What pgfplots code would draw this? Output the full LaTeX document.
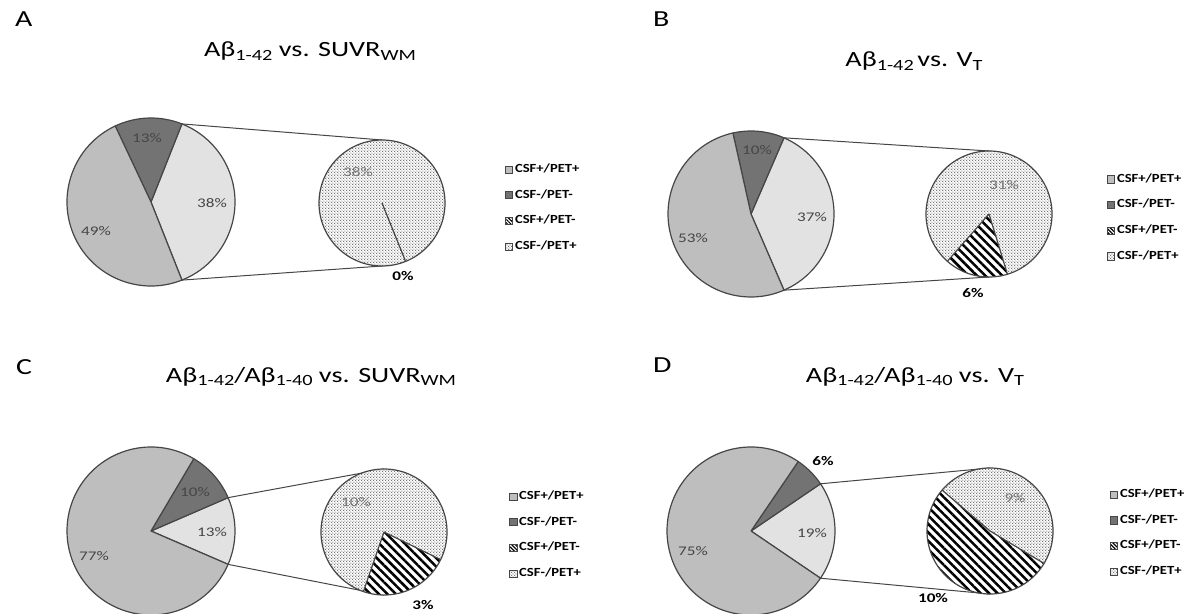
\documentclass[border=0pt]{standalone}
\usepackage{pgfplots}
\pgfplotsset{compat=1.18}
\usepackage{pgfplotstable}
\usetikzlibrary{patterns.meta}
\usepackage{fontspec}
\setmainfont{Carlito}[FakeStretch=1.3]
\newfontfamily\legfont{Carlito}[FakeStretch=1.18]

\definecolor{cPP}{RGB}{190,190,190}
\definecolor{cNN}{RGB}{115,115,115}
\definecolor{cOther}{RGB}{226,226,226}
\definecolor{cEdge}{RGB}{70,70,70}
\definecolor{cLab}{RGB}{70,70,70}
\definecolor{cLabB}{RGB}{115,115,115}
\definecolor{cDot}{RGB}{105,105,105}

\tikzdeclarepattern{
  name=pdots, type=uncolored,
  bounding box={(0pt,0pt) and (1.6pt,1.6pt)},
  tile size={(1.6pt,1.6pt)},
  code={\fill (0.4pt,0.4pt) circle (0.38pt); \fill (1.2pt,1.2pt) circle (0.38pt);}
}
\tikzset{
  hatchfill/.style={pattern={Lines[angle=-45,distance=3pt,line width=1.25pt]},pattern color=black},
  dotfill/.style={pattern=pdots,pattern color=cDot},
  edge/.style={draw=cEdge,line width=0.6pt,line join=round},
}

% values in percent of all subjects
\pgfplotstableread{
panel pp nn pn np
A 49 13 0 38
B 53 10 6 31
C 77 10 3 10
D 75 6 10 9
}\piedata

\newcommand\sub[1]{\raisebox{-0.32ex}{\fontsize{7.8}{9}\selectfont #1}}
\newcommand\titlefont{\fontsize{10.85}{13}\selectfont}
\newcommand\labfont{\fontsize{6.6}{8}\selectfont}

% #1 row, #2 cx, #3 cy, #4 R, #5 cx2, #6 cy2, #7 r2, #8 end angle of CSF+/PET- slice
\newcommand\drawpie[8]{%
  \pgfplotstablegetelem{#1}{pp}\of\piedata \pgfmathsetmacro\vP{\pgfplotsretval}%
  \pgfplotstablegetelem{#1}{nn}\of\piedata \pgfmathsetmacro\vN{\pgfplotsretval}%
  \pgfplotstablegetelem{#1}{pn}\of\piedata \pgfmathsetmacro\vH{\pgfplotsretval}%
  \pgfplotstablegetelem{#1}{np}\of\piedata \pgfmathsetmacro\vD{\pgfplotsretval}%
  \pgfmathsetmacro\aO{(\vH+\vD)*1.8}%
  \pgfmathsetmacro\aN{\aO+\vN*3.6}%
  \pgfmathsetmacro\aE{360-\aO}%
  \pgfmathsetmacro\hs{#8-\vH/(\vH+\vD)*360}%
  \pgfmathsetmacro\de{\hs+360}%
  \pgfmathsetmacro\Rr{#4*0.5}%
  \pgfmathsetmacro\rr{#7*0.5}%
  \pgfmathsetmacro\px{#2+#4*cos(\aO)}%
  \pgfmathsetmacro\pyt{-#3+#4*sin(\aO)}%
  \pgfmathsetmacro\pyb{-#3-#4*sin(\aO)}%
  \pgfmathsetmacro\qt{-#6+#7}%
  \pgfmathsetmacro\qb{-#6-#7}%
  % main pie
  \path[fill=cOther,edge] (axis cs:#2,-#3) -- ++(-\aO:\Rr pt) arc[start angle=-\aO,end angle=\aO,radius=\Rr pt] -- cycle;
  \path[fill=cNN,edge] (axis cs:#2,-#3) -- ++(\aO:\Rr pt) arc[start angle=\aO,end angle=\aN,radius=\Rr pt] -- cycle;
  \path[fill=cPP,edge] (axis cs:#2,-#3) -- ++(\aN:\Rr pt) arc[start angle=\aN,end angle=\aE,radius=\Rr pt] -- cycle;
  % connector lines
  \draw[cEdge,line width=0.5pt] (axis cs:\px,\pyt) -- (axis cs:#5,\qt);
  \draw[cEdge,line width=0.5pt] (axis cs:\px,\pyb) -- (axis cs:#5,\qb);
  % second pie
  \fill[white] (axis cs:#5,-#6) circle[radius=\rr pt];
  \path[dotfill] (axis cs:#5,-#6) -- ++(#8:\rr pt) arc[start angle=#8,end angle=\de,radius=\rr pt] -- cycle;
  \path[hatchfill] (axis cs:#5,-#6) -- ++(\hs:\rr pt) arc[start angle=\hs,end angle=#8,radius=\rr pt] -- cycle;
  \draw[edge] (axis cs:#5,-#6) -- ++(\hs:\rr pt) (axis cs:#5,-#6) -- ++(#8:\rr pt);
  \draw[edge] (axis cs:#5,-#6) circle[radius=\rr pt];
}

\pgfplotsset{
  panel/.style={
    x=0.5pt,y=0.5pt,hide axis,clip=false,anchor=north west,
    legend cell align=left,
    legend image code/.code={\draw[##1,draw=cEdge,line width=0.4pt] (0pt,-1.8pt) rectangle (3.6pt,1.8pt);},
    legend style={draw=none,fill=none,anchor=north west,
      font=\legfont\fontsize{6.2}{7}\selectfont\bfseries,row sep=5.2pt,
      nodes={inner sep=0.9pt}},
  },
}
\newcommand\legendentries{%
  \addlegendimage{fill=cPP}\addlegendentry{CSF+/PET+}
  \addlegendimage{fill=cNN}\addlegendentry{CSF-/PET-}
  \addlegendimage{pattern={Lines[angle=-45,distance=1.3pt,line width=0.6pt]},pattern color=black}\addlegendentry{CSF+/PET-}
  \addlegendimage{pattern=pdots,pattern color=cDot}\addlegendentry{CSF-/PET+}
}

\begin{document}
\begin{tikzpicture}
% ---------------- A
\begin{axis}[panel,at={(0pt,0pt)},xmin=0,xmax=596,ymin=-307,ymax=0,
  legend style={at={(0.837,0.487)}}]
\legendentries
\drawpie{0}{151}{202}{84}{382}{203}{63}{-68}
\node[anchor=base west,font=\fontsize{11.5}{13}\selectfont] at (axis cs:8,-27) {A};
\node[anchor=base,font=\titlefont] at (axis cs:310,-57) {Aβ\sub{1-42} vs. SUVR\sub{WM}};
\node[font=\labfont,text=cLab] at (axis cs:147,-138) {13\%};
\node[font=\labfont,text=cLab] at (axis cs:212,-203) {38\%};
\node[font=\labfont,text=cLab] at (axis cs:96,-231) {49\%};
\node[font=\labfont,text=cLabB] at (axis cs:358,-172) {38\%};
\node[font=\labfont\bfseries,text=black] at (axis cs:403,-276) {0\%};
\end{axis}
% ---------------- B
\begin{axis}[panel,at={(298pt,0pt)},xmin=596,xmax=1192,ymin=-307,ymax=0,
  legend style={at={(0.847,0.455)}}]
\legendentries
\drawpie{1}{751}{214}{83}{989}{214}{63}{-73}
\node[anchor=base west,font=\fontsize{11.5}{13}\selectfont] at (axis cs:646,-27) {B};
\node[anchor=base,font=\titlefont] at (axis cs:914,-67) {Aβ\sub{1-42}\,vs. V\sub{T}};
\node[font=\labfont,text=cLab] at (axis cs:757,-150) {10\%};
\node[font=\labfont,text=cLab] at (axis cs:812,-217) {37\%};
\node[font=\labfont,text=cLab] at (axis cs:693,-238) {53\%};
\node[font=\labfont,text=cLabB] at (axis cs:1004,-185) {31\%};
\node[font=\labfont\bfseries,text=black] at (axis cs:973,-293) {6\%};
\end{axis}
% ---------------- C
\begin{axis}[panel,at={(0pt,-153.5pt)},xmin=0,xmax=596,ymin=-614,ymax=-307,
  legend style={at={(0.844,0.422)}}]
\legendentries
\drawpie{2}{151}{531}{84}{384}{532}{63}{-26}
\node[anchor=base west,font=\fontsize{11.5}{13}\selectfont] at (axis cs:9,-374) {C};
\node[anchor=base,font=\titlefont] at (axis cs:311,-382) {Aβ\sub{1-42}/Aβ\sub{1-40} vs. SUVR\sub{WM}};
\node[font=\labfont,text=cLab] at (axis cs:195,-492) {10\%};
\node[font=\labfont,text=cLab] at (axis cs:212,-532) {13\%};
\node[font=\labfont,text=cLab] at (axis cs:94,-556) {77\%};
\node[font=\labfont,text=cLabB] at (axis cs:356,-502) {10\%};
\node[font=\labfont\bfseries,text=black] at (axis cs:423,-605) {3\%};
\end{axis}
% ---------------- D
\begin{axis}[panel,at={(298pt,-153.5pt)},xmin=596,xmax=1192,ymin=-614,ymax=-307,
  legend style={at={(0.852,0.428)}}]
\legendentries
\drawpie{3}{751}{531}{84}{990}{531}{63}{-31}
\node[anchor=base west,font=\fontsize{11.5}{13}\selectfont] at (axis cs:646,-372) {D};
\node[anchor=base,font=\titlefont] at (axis cs:915,-382) {Aβ\sub{1-42}/Aβ\sub{1-40} vs. V\sub{T}};
\node[font=\labfont\bfseries,text=black] at (axis cs:823,-461) {6\%};
\node[font=\labfont,text=cLab] at (axis cs:812,-533) {19\%};
\node[font=\labfont,text=cLab] at (axis cs:693,-551) {75\%};
\node[font=\labfont,text=cLabB] at (axis cs:1015,-498) {9\%};
\node[font=\labfont\bfseries,text=black] at (axis cs:933,-598) {10\%};
\end{axis}
\pgfresetboundingbox
\path (0pt,0pt) rectangle (596pt,-307pt);
\end{tikzpicture}
\end{document}
